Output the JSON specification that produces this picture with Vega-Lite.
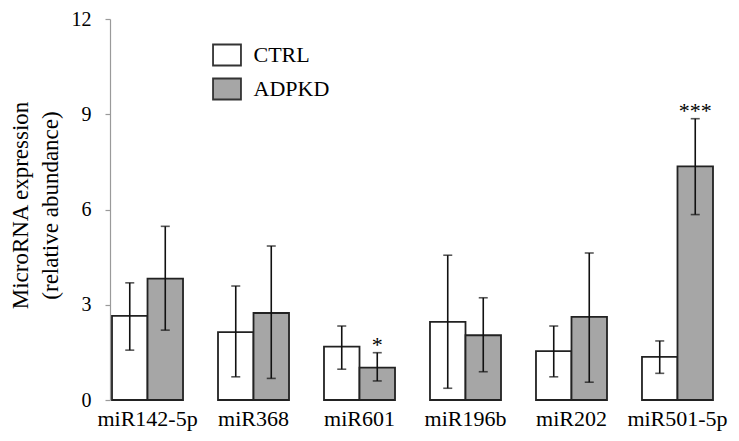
{
  "$schema": "https://vega.github.io/schema/vega-lite/v6.json",
  "autosize": "none",
  "width": 605,
  "height": 381,
  "padding": {"left": 110, "top": 19, "right": 24, "bottom": 41},
  "background": "white",
  "config": {
    "view": {"stroke": null},
    "font": "Liberation Serif"
  },
  "data": {
    "values": [
      {"mirna": "miR142-5p", "group": "CTRL", "value": 2.65, "lower": 1.57, "upper": 3.69, "sig": ""},
      {"mirna": "miR142-5p", "group": "ADPKD", "value": 3.82, "lower": 2.20, "upper": 5.47, "sig": ""},
      {"mirna": "miR368", "group": "CTRL", "value": 2.14, "lower": 0.73, "upper": 3.59, "sig": ""},
      {"mirna": "miR368", "group": "ADPKD", "value": 2.74, "lower": 0.68, "upper": 4.85, "sig": ""},
      {"mirna": "miR601", "group": "CTRL", "value": 1.68, "lower": 0.97, "upper": 2.33, "sig": ""},
      {"mirna": "miR601", "group": "ADPKD", "value": 1.02, "lower": 0.60, "upper": 1.49, "sig": "*"},
      {"mirna": "miR196b", "group": "CTRL", "value": 2.46, "lower": 0.37, "upper": 4.56, "sig": ""},
      {"mirna": "miR196b", "group": "ADPKD", "value": 2.04, "lower": 0.89, "upper": 3.22, "sig": ""},
      {"mirna": "miR202", "group": "CTRL", "value": 1.54, "lower": 0.73, "upper": 2.33, "sig": ""},
      {"mirna": "miR202", "group": "ADPKD", "value": 2.62, "lower": 0.56, "upper": 4.63, "sig": ""},
      {"mirna": "miR501-5p", "group": "CTRL", "value": 1.36, "lower": 0.84, "upper": 1.86, "sig": ""},
      {"mirna": "miR501-5p", "group": "ADPKD", "value": 7.36, "lower": 5.84, "upper": 8.86, "sig": "***"}
    ]
  },
  "encoding": {
    "x": {
      "field": "mirna",
      "type": "nominal",
      "sort": ["miR142-5p", "miR368", "miR601", "miR196b", "miR202", "miR501-5p"],
      "scale": {"paddingInner": 0.33, "paddingOuter": 0.0189},
      "axis": {
        "title": null,
        "domain": false,
        "ticks": false,
        "labelAngle": 0,
        "labelFont": "Liberation Serif",
        "labelFontSize": 22,
        "labelColor": "#000000",
        "labelPadding": 8
      }
    },
    "xOffset": {
      "field": "group",
      "type": "nominal",
      "sort": ["CTRL", "ADPKD"],
      "scale": {"paddingInner": 0, "paddingOuter": 0}
    }
  },
  "layer": [
    {
      "mark": {"type": "bar", "stroke": "#222222", "strokeWidth": 1.8},
      "encoding": {
        "y": {
          "field": "value",
          "type": "quantitative",
          "scale": {"domain": [0, 12], "nice": false},
          "axis": {
            "values": [0, 3, 6, 9, 12],
            "grid": false,
            "domainColor": "#9a9a9a",
            "domainWidth": 1.2,
            "tickColor": "#9a9a9a",
            "tickWidth": 1.2,
            "tickSize": 5,
            "labelFont": "Liberation Serif",
            "labelFontSize": 20,
            "labelColor": "#000000",
            "labelPadding": 14,
            "title": ["MicroRNA expression", "(relative  abundance)"],
            "titleFont": "Liberation Serif",
            "titleFontSize": 23,
            "titleFontWeight": "normal",
            "titleColor": "#000000",
            "titleAngle": -90,
            "titleAlign": "center",
            "titleBaseline": "alphabetic",
            "titleLineHeight": 30,
            "titleX": -83,
            "titleY": 186
          }
        },
        "fill": {
          "field": "group",
          "type": "nominal",
          "sort": ["CTRL", "ADPKD"],
          "scale": {"domain": ["CTRL", "ADPKD"], "range": ["#ffffff", "#a6a6a6"]},
          "legend": {
            "title": null,
            "orient": "none",
            "legendX": 105.5,
            "legendY": 24.5,
            "padding": 0,
            "symbolType": "M-1.33,-1H1.33V1H-1.33Z",
            "symbolSize": 441,
            "symbolStrokeColor": "#333333",
            "symbolStrokeWidth": 1.8,
            "labelFont": "Liberation Serif",
            "labelFontSize": 22,
            "labelColor": "#000000",
            "labelOffset": 15,
            "rowPadding": 5
          }
        }
      }
    },
    {
      "mark": {"type": "rule", "color": "#111111", "strokeWidth": 1.6},
      "encoding": {
        "y": {"field": "lower", "type": "quantitative"},
        "y2": {"field": "upper"}
      }
    },
    {
      "mark": {"type": "tick", "color": "#111111", "thickness": 1.6, "size": 9, "orient": "horizontal"},
      "encoding": {
        "y": {"field": "lower", "type": "quantitative"}
      }
    },
    {
      "mark": {"type": "tick", "color": "#111111", "thickness": 1.6, "size": 9, "orient": "horizontal"},
      "encoding": {
        "y": {"field": "upper", "type": "quantitative"}
      }
    },
    {
      "mark": {"type": "text", "font": "Liberation Serif", "fontSize": 22, "color": "#000000", "baseline": "alphabetic", "dy": -1},
      "encoding": {
        "y": {"field": "upper", "type": "quantitative"},
        "text": {"field": "sig"}
      }
    }
  ]
}
